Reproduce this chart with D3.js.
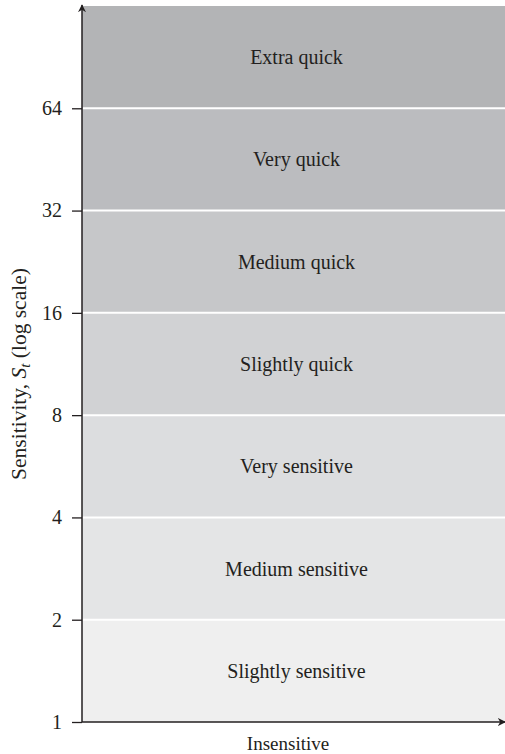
<!DOCTYPE html>
<html>
<head>
<meta charset="utf-8">
<script src="https://cdnjs.cloudflare.com/ajax/libs/d3/7.8.5/d3.min.js"></script>
<style>
  body { margin: 0; background: #fff; }
  text { font-family: "Liberation Serif", "DejaVu Serif", serif; fill: #231f20; }
</style>
</head>
<body>
<svg id="chart"></svg>
<script>
// Sensitivity classes (log2 bands)
const bandNames = ["Slightly sensitive", "Medium sensitive", "Very sensitive", "Slightly quick",
                   "Medium quick", "Very quick", "Extra quick"];
const bandLow = [1, 2, 4, 8, 16, 32, 64];
const bandHigh = [2, 4, 8, 16, 32, 64, 128];
const bandColors = ["#efefef", "#e4e5e6", "#dcdddf", "#d1d2d4", "#c6c7c9", "#bbbcbf", "#b3b4b6"];
const tickValues = [1, 2, 4, 8, 16, 32, 64];

const width = 505, height = 754;
const margin = { top: 6, right: 0, bottom: 32, left: 82 };
const fontSize = "20px";

const svg = d3.select("#chart")
    .attr("width", width)
    .attr("height", height);

const y = d3.scaleLog().base(2)
    .domain([1, 128])
    .range([height - margin.bottom, margin.top]);

const x = d3.scaleLinear()
    .domain([0, 1])
    .range([margin.left, width - margin.right]);

// bands
const bands = bandNames.map((name, i) => ({ name, lo: bandLow[i], hi: bandHigh[i], color: bandColors[i] }));

svg.append("g").selectAll("rect")
    .data(bands)
    .join("rect")
    .attr("x", x(0))
    .attr("y", d => y(d.hi))
    .attr("width", x(1) - x(0))
    .attr("height", d => y(d.lo) - y(d.hi))
    .attr("fill", d => d.color);

// white separators between bands
svg.append("g").selectAll("line")
    .data(tickValues.slice(1))
    .join("line")
    .attr("x1", x(0) + 1)
    .attr("x2", x(1))
    .attr("y1", d => y(d))
    .attr("y2", d => y(d))
    .attr("stroke", "#fff")
    .attr("stroke-width", 2);

// band labels
svg.append("g").selectAll("text")
    .data(bands)
    .join("text")
    .attr("x", (x(0) + x(1)) / 2 + 3)
    .attr("y", d => y(Math.sqrt(d.lo * d.hi)))
    .attr("dy", "0.35em")
    .attr("text-anchor", "middle")
    .style("font-size", fontSize)
    .text(d => d.name);

// arrow marker
svg.append("defs").append("marker")
    .attr("id", "arrow")
    .attr("viewBox", "0 0 10 10")
    .attr("refX", 9).attr("refY", 5)
    .attr("markerWidth", 8).attr("markerHeight", 8)
    .attr("markerUnits", "userSpaceOnUse")
    .attr("orient", "auto")
    .append("path")
    .attr("d", "M0,0 L10,5 L0,10 L3,5 Z")
    .attr("fill", "#231f20");

// y axis
const yAxis = d3.axisLeft(y)
    .tickValues(tickValues)
    .tickFormat(d3.format("d"))
    .tickSize(10)
    .tickPadding(10);

const yg = svg.append("g")
    .attr("transform", `translate(${margin.left},0)`)
    .call(yAxis);
yg.select(".domain").remove();
yg.selectAll(".tick line").attr("stroke", "#231f20").attr("stroke-width", 1.3);
yg.selectAll(".tick text")
    .style("font-family", "'Liberation Serif', serif")
    .style("font-size", fontSize)
    .attr("fill", "#231f20");

svg.append("line")
    .attr("x1", margin.left).attr("x2", margin.left)
    .attr("y1", y(1)).attr("y2", margin.top - 1)
    .attr("stroke", "#231f20").attr("stroke-width", 1.5)
    .attr("marker-end", "url(#arrow)");

// x axis
svg.append("line")
    .attr("x1", margin.left).attr("x2", x(1))
    .attr("y1", y(1)).attr("y2", y(1))
    .attr("stroke", "#231f20").attr("stroke-width", 1.5)
    .attr("marker-end", "url(#arrow)");

// axis titles
svg.append("text")
    .attr("x", 288)
    .attr("y", 750)
    .attr("text-anchor", "middle")
    .style("font-size", "19px")
    .text("Insensitive");

const yTitle = svg.append("text")
    .attr("transform", "translate(26,374) rotate(-90)")
    .attr("text-anchor", "middle")
    .style("font-size", "21.5px");
yTitle.append("tspan").text("Sensitivity, ");
yTitle.append("tspan").style("font-style", "italic").text("S");
yTitle.append("tspan").style("font-style", "italic").style("font-size", "15px").attr("dy", 4).text("t");
yTitle.append("tspan").attr("dy", -4).text(" (log scale)");
</script>
</body>
</html>
